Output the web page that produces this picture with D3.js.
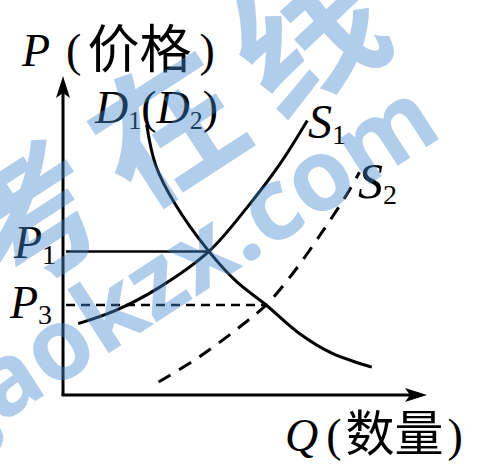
<!DOCTYPE html>
<html>
<head>
<meta charset="utf-8">
<script src="https://cdn.jsdelivr.net/npm/d3@7"></script>
<style>
	html, body { margin: 0; padding: 0; background: #fff; }
	svg { display: block; }
</style>
</head>
<body>
<svg id="vis"></svg>
<script>
	// Curve data (Q = quantity, P = price)
	var demandD = [[2.31, 8.53], [2.56, 7.25], [3.11, 6.00], [4.03, 4.53], [4.78, 3.59], [5.61, 2.84], [6.53, 1.94], [7.44, 1.31], [8.53, 0.88]];
	var supplyS1 = [[0.42, 2.25], [1.44, 2.66], [2.64, 3.38], [4.03, 4.53], [5.06, 5.88], [5.97, 7.25], [6.75, 8.66]];
	var supplyS2 = [[2.64, 0.41], [3.75, 1.19], [4.86, 2.13], [5.61, 2.84], [6.33, 3.81], [7.17, 5.16], [7.83, 6.31], [8.19, 7.03]];
	var priceLevels = [{ name: "P1", p: 4.53, q: 4.03, dashed: false }, { name: "P3", p: 2.84, q: 5.61, dashed: true }];

	var width = 488, height = 464;
	var svg = d3.select("svg#vis")
		.attr("width", width)
		.attr("height", height);

	svg.append("rect")
		.attr("width", width)
		.attr("height", height)
		.attr("fill", "#ffffff");

	// scales
	var xScale = d3.scaleLinear().domain([0, 10]).range([63, 425]);
	var yScale = d3.scaleLinear().domain([0, 10]).range([395, 78]);

	var serif = "'Liberation Serif', 'Noto Sans CJK SC', serif";
	var cjk = "'Noto Sans CJK SC', sans-serif";

	// axes
	var axes = svg.append("g")
		.attr("stroke", "#000")
		.attr("stroke-width", 3)
		.attr("fill", "none");
	axes.append("line")
		.attr("x1", xScale(0)).attr("y1", yScale(0))
		.attr("x2", xScale(0)).attr("y2", yScale(10) + 8);
	axes.append("line")
		.attr("x1", xScale(0) - 1.5).attr("y1", yScale(0))
		.attr("x2", xScale(10) - 8).attr("y2", yScale(0));

	// arrow heads
	svg.append("path")
		.attr("d", "M" + xScale(0) + "," + (yScale(10) - 2) + " l-7,22 l7,-5 l7,5 z")
		.attr("fill", "#000");
	svg.append("path")
		.attr("d", "M" + (xScale(10) + 2) + "," + yScale(0) + " l-22,-7 l5,7 l-5,7 z")
		.attr("fill", "#000");

	var line = d3.line()
		.x(function(d) { return xScale(d[0]); })
		.y(function(d) { return yScale(d[1]); })
		.curve(d3.curveCatmullRom.alpha(0.5));

	// price guide lines
	svg.selectAll("line.guide").data(priceLevels).enter().append("line")
		.attr("class", "guide")
		.attr("x1", xScale(0) + 3)
		.attr("x2", function(d) { return xScale(d.q); })
		.attr("y1", function(d) { return yScale(d.p); })
		.attr("y2", function(d) { return yScale(d.p); })
		.attr("stroke", "#000")
		.attr("stroke-width", 2.5)
		.attr("stroke-dasharray", function(d) { return d.dashed ? "9,6" : null; });

	// curves
	svg.append("path").datum(demandD)
		.attr("d", line)
		.attr("fill", "none").attr("stroke", "#000").attr("stroke-width", 3);
	svg.append("path").datum(supplyS1)
		.attr("d", line)
		.attr("fill", "none").attr("stroke", "#000").attr("stroke-width", 3);
	svg.append("path").datum(supplyS2)
		.attr("d", line)
		.attr("fill", "none").attr("stroke", "#000").attr("stroke-width", 3)
		.attr("stroke-dasharray", "14,10");

	// labels
	var labels = svg.append("g")
		.attr("fill", "#000")
		.style("font-family", serif)
		.style("font-size", "46px");

	function italicLabel(x, y, main, sub, size) {
		var t = labels.append("text").attr("x", x).attr("y", y);
		if (size) t.style("font-size", size + "px");
		t.append("tspan").style("font-style", "italic").text(main);
		t.append("tspan").style("font-size", "28px").attr("dy", 6).text(sub);
		return t;
	}

	var pTitle = labels.append("text").attr("x", 22).attr("y", 66);
	pTitle.append("tspan").style("font-style", "italic").text("P");
	pTitle.append("tspan").attr("dx", 16).text("(");
	pTitle.append("tspan").style("font-family", cjk).style("font-size", "52px").attr("dx", 6).attr("dy", 2).text("价格");
	pTitle.append("tspan").attr("dx", 8).attr("dy", -2).text(")");

	var dLabel = labels.append("text").attr("x", 95).attr("y", 123);
	dLabel.append("tspan").style("font-style", "italic").text("D");
	dLabel.append("tspan").style("font-size", "26px").attr("dy", 6).text("1");
	dLabel.append("tspan").attr("dy", -6).text("(");
	dLabel.append("tspan").style("font-style", "italic").text("D");
	dLabel.append("tspan").style("font-size", "26px").attr("dy", 6).text("2");
	dLabel.append("tspan").attr("dy", -6).text(")");

	italicLabel(308, 138, "S", "1", 48);
	italicLabel(358, 198, "S", "2", 50);
	italicLabel(14, 258, "P", "1");
	italicLabel(10, 318, "P", "3");

	var qTitle = labels.append("text").attr("x", 285).attr("y", 451);
	qTitle.append("tspan").style("font-style", "italic").text("Q");
	qTitle.append("tspan").attr("dx", 8).text("(");
	qTitle.append("tspan").style("font-family", cjk).style("font-size", "49px").attr("dx", 4).text("数量");
	qTitle.append("tspan").attr("dx", 4).text(")");

	// watermark, laid over the drawing like in the scan
	var wm = svg.append("g")
		.attr("fill", "#468cd1")
		.attr("opacity", 0.42)
		.style("font-weight", "bold");
	wm.append("text")
		.attr("transform", "translate(-4, 303) rotate(-33)")
		.style("font-family", cjk)
		.style("font-size", "145px")
		.style("letter-spacing", "22px")
		.text("考在线");
	wm.append("text")
		.attr("transform", "translate(445, 135) rotate(-33)")
		.attr("text-anchor", "end")
		.style("font-family", "'Open Sans', sans-serif")
		.style("font-size", "100px")
		.text("gaokzx.com");
</script>
</body>
</html>
